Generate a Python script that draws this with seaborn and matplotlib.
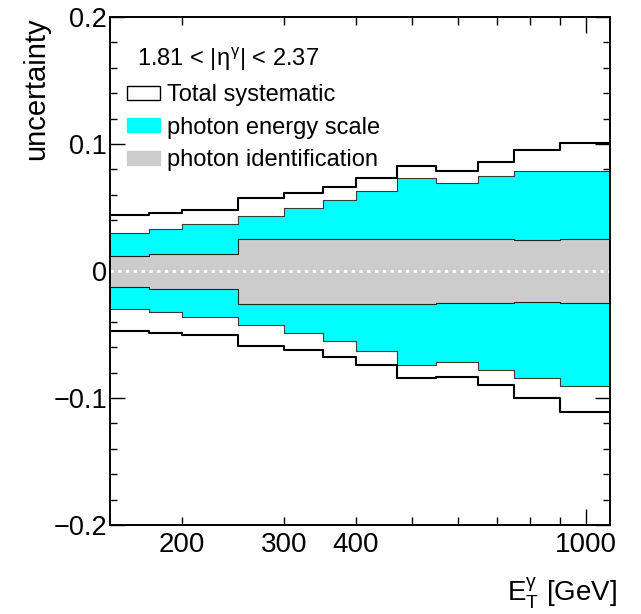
import numpy as np
import pandas as pd
import matplotlib
matplotlib.use("Agg")
import matplotlib.pyplot as plt
import seaborn as sns
from matplotlib.patches import Patch
from matplotlib.ticker import FixedLocator, FuncFormatter, MultipleLocator

# ---- data ----
bin_edges = [150, 175, 200, 250, 300, 350, 400, 470, 550, 650, 750, 900, 1100]
total_up = [0.0441, 0.0459, 0.0483, 0.0578, 0.0617, 0.0665, 0.0731, 0.0823, 0.0791, 0.0862, 0.0952, 0.1010]
total_dn = [-0.0475, -0.0485, -0.0501, -0.0588, -0.0622, -0.0677, -0.0744, -0.0841, -0.0831, -0.0896, -0.0997, -0.1110]
escale_up = [0.0301, 0.0327, 0.0369, 0.0430, 0.0494, 0.0557, 0.0630, 0.0731, 0.0691, 0.0749, 0.0786, 0.0786]
escale_dn = [-0.0298, -0.0324, -0.0366, -0.0427, -0.0488, -0.0551, -0.0630, -0.0741, -0.0720, -0.0780, -0.0841, -0.0907]
id_up = [0.0119, 0.0135, 0.0135, 0.0253, 0.0253, 0.0253, 0.0253, 0.0251, 0.0248, 0.0248, 0.0243, 0.0248]
id_dn = [-0.0126, -0.0145, -0.0145, -0.0258, -0.0258, -0.0258, -0.0258, -0.0258, -0.0253, -0.0253, -0.0248, -0.0255]
x_labels = {200: "200", 300: "300", 400: "400"}
legend_labels = ["Total systematic", "photon energy scale", "photon identification"]

sns.set_style("ticks")
plt.rcParams["font.family"] = ["Liberation Sans", "DejaVu Sans"]
plt.rcParams["mathtext.fontset"] = "custom"
plt.rcParams["mathtext.rm"] = "Liberation Sans"
plt.rcParams["mathtext.it"] = "Liberation Sans"
plt.rcParams["mathtext.bf"] = "Liberation Sans:bold"
for k in ["text.color", "axes.labelcolor", "xtick.color", "ytick.color", "xtick.labelcolor", "ytick.labelcolor"]:
    plt.rcParams[k] = "black"

def ext(v):
    return list(v) + [v[-1]]

edges = np.array(bin_edges, dtype=float)

fig = plt.figure(figsize=(6.41, 6.14), dpi=100)
ax = fig.add_axes([0.1716, 0.145, 0.78, 0.8273])
ax.set_xscale("log")

CYAN = "#00ffff"
GRAY = "#cccccc"

ax.fill_between(edges, ext(escale_dn), ext(escale_up), step="post", color=CYAN, lw=0, zorder=1)
ax.fill_between(edges, ext(id_dn), ext(id_up), step="post", color=GRAY, lw=0, zorder=2)

for vals, col, lw in [(escale_up, "#3a3a3a", 0.8), (escale_dn, "#3a3a3a", 0.8),
                      (id_up, "#222222", 0.8), (id_dn, "#222222", 0.8),
                      (total_up, "black", 1.5), (total_dn, "black", 1.5)]:
    df = pd.DataFrame({"x": edges, "y": ext(vals)})
    sns.lineplot(data=df, x="x", y="y", drawstyle="steps-post", color=col, lw=lw,
                 estimator=None, sort=False, ax=ax, legend=False, zorder=4)

ax.axhline(0, color="white", lw=2.0, ls=(0, (1.2, 1.6)), zorder=3)

ax.set_xlim(150, 1100)
ax.set_ylim(-0.2, 0.2)

# ticks
ax.yaxis.set_major_locator(MultipleLocator(0.1))
ax.yaxis.set_minor_locator(MultipleLocator(0.02))
ax.yaxis.set_major_formatter(FuncFormatter(lambda v, p: "0" if abs(v) < 1e-9 else ("%.1f" % v).replace("-", "\u2212")))
ax.xaxis.set_major_locator(FixedLocator([1000]))
ax.xaxis.set_major_formatter(FuncFormatter(lambda v, p: "1000"))
ax.xaxis.set_minor_locator(FixedLocator([200, 300, 400, 500, 600, 700, 800, 900]))
ax.xaxis.set_minor_formatter(FuncFormatter(lambda v, p: x_labels.get(int(round(v)), "")))

ax.tick_params(axis="both", which="both", direction="in", top=True, right=True, width=1.0,
               color="black", labelcolor="black")
ax.tick_params(axis="y", which="major", length=10.8, labelsize=19.5, pad=2)
ax.tick_params(axis="y", which="minor", length=5)
ax.tick_params(axis="x", which="major", length=11.5, labelsize=20, pad=5)
ax.tick_params(axis="x", which="minor", length=5.8, labelsize=20, pad=5)
for s in ax.spines.values():
    s.set_linewidth(1.4)
    s.set_color("black")
    s.set_zorder(6)

ax.set_ylabel("uncertainty", loc="top", fontsize=21, color="black")
ax.yaxis.set_label_coords(-0.119, 1.0)
ax.set_xlabel(r"$\mathrm{E}_{\mathrm{T}}^{\gamma}$ [GeV]", loc="right", fontsize=20, color="black")
ax.xaxis.set_label_coords(1.014, -0.100)

ax.text(0.055, 0.917, r"1.81 < |$\eta^{\gamma}$| < 2.37", transform=ax.transAxes,
        fontsize=17, ha="left", va="center", color="black")

handles = [Patch(facecolor="white", edgecolor="black", lw=1.0),
           Patch(facecolor=CYAN, edgecolor=CYAN),
           Patch(facecolor=GRAY, edgecolor=GRAY)]
leg = ax.legend(handles, legend_labels, loc="upper left", bbox_to_anchor=(0.02, 0.882),
                frameon=False, fontsize=17, handlelength=1.4, handleheight=0.55,
                handletextpad=0.3, labelspacing=0.45, borderaxespad=0, borderpad=0.3,
                labelcolor="black")
leg.set_zorder(7)

fig.savefig("out.png", dpi=100)
